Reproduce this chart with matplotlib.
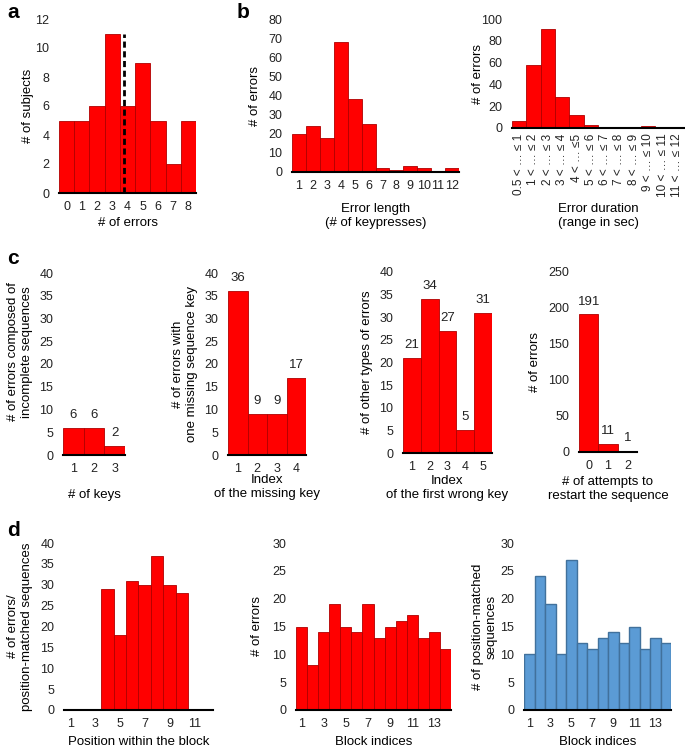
import matplotlib
matplotlib.use("Agg")
import matplotlib.pyplot as plt
import numpy as np

plt.rcParams['font.family'] = ['Liberation Sans', 'DejaVu Sans']
plt.rcParams['font.size'] = 9

# ---------------- data ----------------
a_x = [0, 1, 2, 3, 4, 5, 6, 7, 8]
a_counts = [5, 5, 6, 11, 6, 9, 5, 2, 5]
a_mean = 3.77

b1_x = list(range(1, 13))
b1_counts = [20, 24, 18, 68, 38, 25, 2, 1, 3, 2, 0, 2]

b2_labels = ["0.5 < … ≤ 1", "1 < … ≤ 2", "2 < … ≤ 3", "3 < … ≤ 4", "4 < … ≤5",
             "5 < … ≤ 6", "6 < … ≤ 7", "7 < … ≤ 8", "8 < … ≤ 9", "9 < … ≤ 10",
             "10 < … ≤ 11", "11 < … ≤ 12"]
b2_counts = [6, 58, 91, 28, 12, 3, 1, 1, 0, 2, 0, 1]

c1_x = [1, 2, 3]
c1_counts = [6, 6, 2]
c2_x = [1, 2, 3, 4]
c2_counts = [36, 9, 9, 17]
c3_x = [1, 2, 3, 4, 5]
c3_counts = [21, 34, 27, 5, 31]
c4_x = [0, 1, 2]
c4_counts = [191, 11, 1]

d1_x = [4, 5, 6, 7, 8, 9, 10]
d1_counts = [29, 18, 31, 30, 37, 30, 28]
d2_x = list(range(1, 15))
d2_counts = [15, 8, 14, 19, 15, 14, 19, 13, 15, 16, 17, 13, 14, 11]
d3_x = list(range(1, 15))
d3_counts = [10, 24, 19, 10, 27, 12, 11, 13, 14, 12, 15, 11, 13, 12]

# ---------------- figure ----------------
W, H = 685, 748
fig = plt.figure(figsize=(W / 100, H / 100), dpi=100)

RED = '#FF0000'
RED_EDGE = '#B00000'
BLUE = '#5B9BD5'
BLUE_EDGE = '#41719C'


def make_ax(left, top, right, bottom):
    return fig.add_axes([left / W, 1 - bottom / H, (right - left) / W, (bottom - top) / H])


def style(ax, ylim, yticks, xlim):
    ax.set_ylim(*ylim)
    ax.set_yticks(yticks)
    ax.set_xlim(*xlim)
    for s in ['top', 'right', 'left']:
        ax.spines[s].set_visible(False)
    ax.spines['bottom'].set_linewidth(1.5)
    ax.spines['bottom'].set_color('black')
    ax.spines['bottom'].set_zorder(5)
    ax.tick_params(axis='both', length=0, labelsize=9, colors='#222222')
    ax.tick_params(axis='y', pad=7)
    ax.tick_params(axis='x', pad=6)
    ax.patch.set_visible(False)


def ylabel(ax, text, xpx, left, right, yfrac=0.5):
    ax.set_ylabel(text, fontsize=9.5, va='center', ha='center', linespacing=1.15)
    ax.yaxis.set_label_coords((xpx - left) / (right - left), yfrac)


def xlabel(ax, text, ypx, top, bottom):
    ax.set_xlabel(text, fontsize=9.5, va='center', ha='center', linespacing=1.15)
    ax.xaxis.set_label_coords(0.5, -(ypx - bottom) / (bottom - top))


def bars(ax, x, y, color=RED, edge=RED_EDGE, lw=0.6):
    return ax.bar(x, y, width=1.0, color=color, edgecolor=edge, linewidth=lw, zorder=2)


# ---- panel a ----
L, T, R, B = 59, 19, 196, 193
ax = make_ax(L, T, R, B)
bars(ax, a_x, a_counts)
ax.plot([a_mean, a_mean], [0, max(a_counts)], color='black', lw=2, ls=(0, (2.2, 1.3)), zorder=4)
style(ax, (0, 12), range(0, 13, 2), (-0.5, 8.5))
ax.set_xticks(a_x)
ylabel(ax, '# of subjects', 28, L, R)
xlabel(ax, '# of errors', 223, T, B)

# ---- panel b left ----
L, T, R, B = 292, 19, 459, 172
ax = make_ax(L, T, R, B)
bars(ax, b1_x, b1_counts)
style(ax, (0, 80), range(0, 81, 10), (0.5, 12.5))
ax.set_xticks(b1_x)
ylabel(ax, '# of errors', 255, L, R)
xlabel(ax, 'Error length\n(# of keypresses)', 216, T, B)

# ---- panel b right ----
L, T, R, B = 512, 19, 684, 128
ax = make_ax(L, T, R, B)
bx = np.arange(len(b2_counts))
bars(ax, bx, b2_counts)
style(ax, (0, 100), range(0, 101, 20), (-0.5, len(b2_counts) - 0.5))
ax.set_xticks(bx)
ax.set_xticklabels(b2_labels, rotation=90, va='top', ha='center', fontsize=8.5)
ax.tick_params(axis='x', pad=4)
ylabel(ax, '# of errors', 478, L, R)
xlabel(ax, 'Error duration\n(range in sec)', 216, T, B)

# ---- panel c ----
c_specs = [
    (63, 273, 125, 455, c1_x, c1_counts, (0, 40), range(0, 41, 5), (0.5, 3.5),
     '# of errors composed of\nincomplete sequences', 20, 0.566, '# of keys', 495),
    (228, 273, 306, 455, c2_x, c2_counts, (0, 40), range(0, 41, 5), (0.5, 4.5),
     '# of errors with\none missing sequence key', 185, 0.5, 'Index\nof the missing key', 487),
    (403, 272, 492, 453, c3_x, c3_counts, (0, 40), range(0, 41, 5), (0.5, 5.5),
     '# of other types of errors', 367, 0.5, 'Index\nof the first wrong key', 488),
    (579, 272, 637, 452, c4_x, c4_counts, (0, 250), range(0, 251, 50), (-0.5, 2.5),
     '# of errors', 535, 0.5, '# of attempts to\nrestart the sequence', 489),
]
for (L, T, R, B, xs, ys, yl, yt, xl, ylab, ylx, yfr, xlab, xly) in c_specs:
    ax = make_ax(L, T, R, B)
    bb = bars(ax, xs, ys)
    style(ax, yl, yt, xl)
    ax.set_xticks(xs)
    ax.bar_label(bb, labels=[str(v) for v in ys], padding=5, fontsize=9.5, color='#222222')
    ylabel(ax, ylab, ylx, L, R, yfr)
    xlabel(ax, xlab, xly, T, B)

# ---- panel d ----
L, T, R, B = 64, 543, 213, 710
ax = make_ax(L, T, R, B)
bars(ax, d1_x, d1_counts)
style(ax, (0, 40), range(0, 41, 5), (0.5, 12.5))
ax.set_xticks(range(1, 12, 2))
ylabel(ax, '# of errors/\nposition-matched sequences', 20, L, R)
xlabel(ax, 'Position within the block', 742, T, B)

L, T, R, B = 296, 543, 451, 710
ax = make_ax(L, T, R, B)
bars(ax, d2_x, d2_counts)
style(ax, (0, 30), range(0, 31, 5), (0.5, 14.5))
ax.set_xticks(range(1, 14, 2))
ylabel(ax, '# of errors', 257, L, R)
xlabel(ax, 'Block indices', 742, T, B)

L, T, R, B = 524, 543, 671, 710
ax = make_ax(L, T, R, B)
bars(ax, d3_x, d3_counts, color=BLUE, edge=BLUE_EDGE, lw=1.0)
style(ax, (0, 30), range(0, 31, 5), (0.5, 14.5))
ax.set_xticks(range(1, 14, 2))
ylabel(ax, '# of position-matched\nsequences', 485, L, R)
xlabel(ax, 'Block indices', 742, T, B)

# panel letters
for letter, (px, py) in {'a': (7, 12), 'b': (237, 12), 'c': (7, 258), 'd': (7, 530)}.items():
    fig.text(px / W, 1 - py / H, letter, fontsize=15, fontweight='bold', va='center', ha='left')

fig.savefig('out.png', dpi=100)
